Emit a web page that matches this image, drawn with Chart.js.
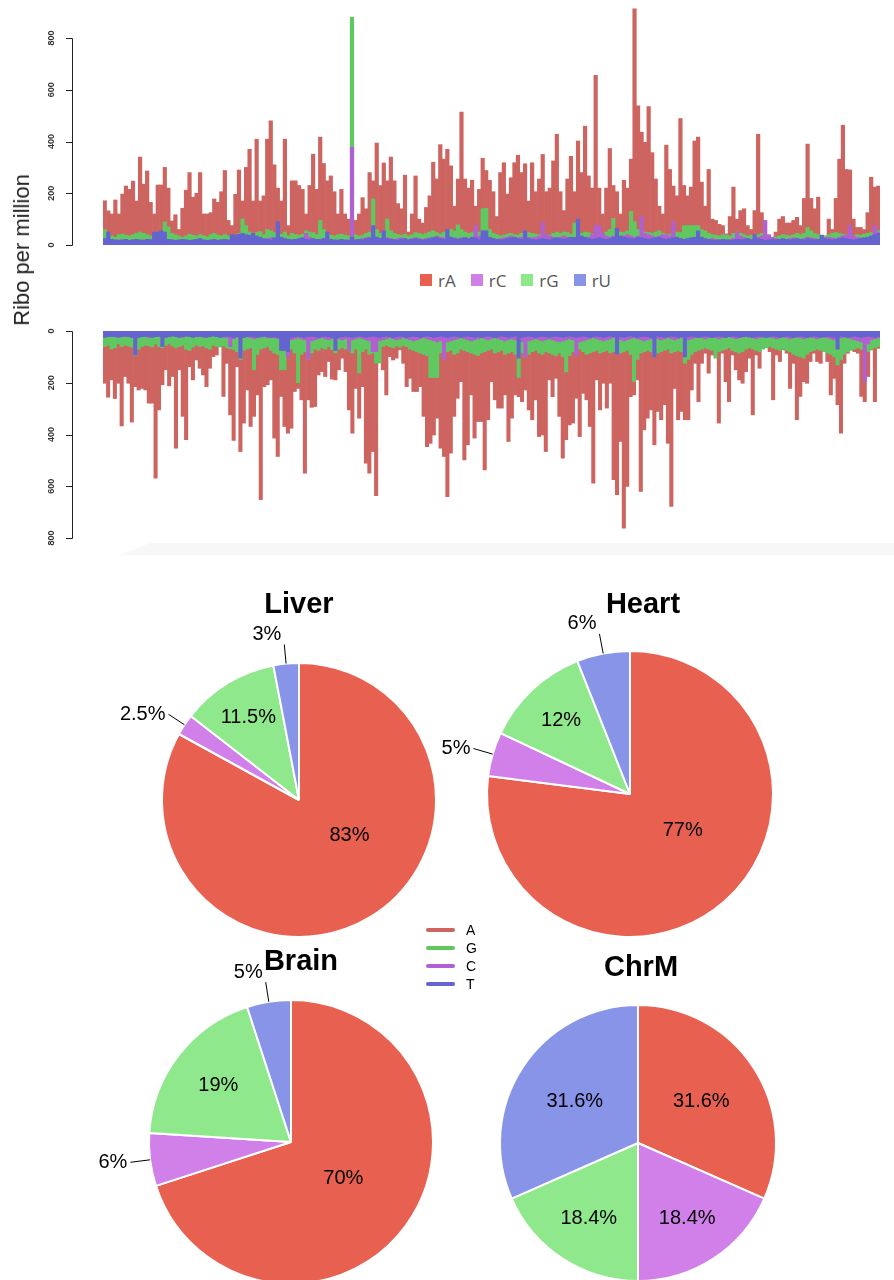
<!DOCTYPE html>
<html>
<head>
<meta charset="utf-8">
<script src="https://cdn.jsdelivr.net/npm/chart.js@4.4.0/dist/chart.umd.min.js"></script>
<style>
  body { margin: 0; width: 894px; height: 1280px; background: #fff; position: relative; overflow: hidden;
         font-family: 'Liberation Sans', Arial, sans-serif; }
  .abs { position: absolute; }
  .title { position: absolute; transform: translate(-50%, -50%); font-weight: bold; font-size: 29px; line-height: 29px; color: #000; white-space: nowrap; }
  #topLegend { position: absolute; left: 420px; top: 270px; display: flex; align-items: center; height: 20px;
               font-family: 'Open Sans', sans-serif; font-size: 17px; color: #555; }
  #topLegend span.sq { display: inline-block; width: 12px; height: 12px; margin-right: 6px; }
  #topLegend span.txt { margin-right: 15px; }
  #pieLegend { position: absolute; left: 426px; top: 921px; font-size: 14px; color: #000; }
  #pieLegend div { display: flex; align-items: center; height: 18px; }
  #pieLegend i { display: inline-block; width: 29px; height: 4px; border-radius: 2px; margin-right: 11px; }
</style>
</head>
<body>
<canvas id="topChart" class="abs" style="left:0;top:0" width="894" height="252"></canvas>
<canvas id="bottomChart" class="abs" style="left:0;top:320px" width="894" height="230"></canvas>
<div class="abs" style="left:120px;top:543px;width:774px;height:12px;background:#f7f7f7;clip-path:polygon(30px 0,100% 0,100% 100%,0 100%)"></div>
<div class="abs" style="left:22px;top:250px;transform:translate(-50%,-50%) rotate(-90deg);font-size:22px;color:#222;white-space:nowrap">Ribo per million</div>
<div id="topLegend"></div>

<canvas id="pieLiver" class="abs" width="420" height="420" style="left:89px;top:590px"></canvas>
<canvas id="pieHeart" class="abs" width="420" height="420" style="left:420px;top:584px"></canvas>
<canvas id="pieBrain" class="abs" width="420" height="420" style="left:81px;top:932px"></canvas>
<canvas id="pieChrM" class="abs" width="420" height="420" style="left:428px;top:933px"></canvas>
<div class="title" style="left:299px;top:603px">Liver</div>
<div class="title" style="left:643px;top:603px">Heart</div>
<div class="title" style="left:301px;top:960px">Brain</div>
<div class="title" style="left:641px;top:966px">ChrM</div>
<div id="pieLegend"></div>

<script>
// ---- upper track: ribo per million, per base ----
const topA = [
  171,132,120,174,120,197,228,215,247,170,
  340,235,286,165,120,232,232,300,220,93,
  117,60,142,212,280,185,200,280,120,120,
  125,178,165,206,288,95,75,196,290,170,
  300,370,170,409,170,190,409,480,310,220,
  170,409,75,248,248,230,215,120,230,351,
  215,417,315,248,267,206,120,215,120,100,
  100,95,120,183,140,280,248,394,230,317,
  248,340,248,160,140,270,50,120,267,100,
  85,145,190,320,255,388,332,370,306,150,
  255,514,255,220,250,150,215,335,288,250,
  206,110,280,318,197,260,318,347,280,314,
  170,318,206,255,350,206,220,325,428,206,
  133,255,343,206,402,280,459,267,220,656,
  220,120,220,373,230,206,120,250,220,332,
  913,538,436,397,535,357,255,150,120,386,
  292,228,190,489,230,190,224,402,417,243,
  150,292,100,95,80,75,43,110,224,100,
  133,140,75,60,133,428,125,35,35,30,
  50,100,110,85,85,95,107,75,180,390,
  180,140,185,35,35,100,60,180,332,463,
  292,290,100,68,68,60,125,262,224,228
]
const topG = [
  60,45,35,30,40,42,38,35,40,45,
  50,45,40,35,38,42,48,89,70,45,
  40,35,30,35,42,38,35,40,36,32,
  40,45,38,35,42,35,30,38,45,101,
  75,50,45,48,52,40,60,55,48,45,
  42,50,35,45,40,38,42,55,50,48,
  40,95,60,45,38,35,40,42,38,36,
  880,40,35,38,45,50,178,60,45,50,
  101,55,45,40,38,42,35,40,48,45,
  40,45,50,55,48,42,50,45,60,55,
  78,60,50,45,48,55,50,140,142,60,
  45,40,35,38,42,45,40,38,45,50,
  48,45,42,40,45,40,38,45,50,45,
  50,48,42,85,60,45,50,48,42,45,
  40,45,50,60,103,55,50,48,55,130,
  90,60,55,50,48,45,50,55,45,42,
  40,45,50,48,75,75,75,75,75,60,
  55,45,40,38,35,40,38,35,45,50,
  45,40,35,38,35,40,45,30,28,30,
  32,35,40,38,35,40,45,40,45,68,
  55,45,40,38,35,40,45,48,45,42,
  40,38,35,40,38,42,45,48,50,55
]
const topC = [
  15,18,15,18,20,18,15,18,20,18,
  18,20,18,22,28,40,30,22,18,20,
  18,15,18,20,18,15,18,20,18,15,
  18,20,18,20,22,18,20,25,28,30,
  25,28,30,25,22,20,25,28,22,20,
  20,22,18,20,22,25,28,45,30,22,
  20,22,25,28,20,18,20,22,18,20,
  378,20,22,25,28,30,35,30,25,30,
  28,25,22,25,28,25,22,25,28,25,
  22,25,28,30,35,30,28,35,30,28,
  25,28,30,25,22,75,35,30,30,28,
  25,22,25,28,30,35,30,28,30,35,
  30,28,30,35,87,40,35,30,28,30,
  35,30,28,30,35,30,28,30,40,75,
  75,45,35,30,35,30,28,35,40,35,
  30,35,110,45,40,35,30,35,40,40,
  35,90,28,25,22,22,20,22,25,22,
  20,22,25,22,20,18,20,22,25,50,
  35,28,25,22,25,30,35,95,40,30,
  25,22,20,22,25,28,25,22,25,30,
  28,25,22,25,28,30,28,25,30,35,
  40,75,35,30,28,25,30,35,75,50
]
const topU = [
  25,50,22,20,18,20,22,18,20,22,
  20,18,22,20,50,50,55,50,22,20,
  18,20,22,20,18,20,22,25,20,18,
  20,22,18,20,22,20,40,38,42,45,
  40,38,45,35,30,25,22,20,28,90,
  30,25,22,20,22,25,28,22,20,25,
  22,20,25,50,22,20,18,22,20,18,
  30,20,22,20,25,28,75,30,25,55,
  25,22,20,18,22,25,20,22,25,22,
  20,22,25,28,30,25,22,60,30,25,
  22,25,28,25,30,28,22,55,55,30,
  25,22,20,22,25,28,30,25,22,55,
  25,22,20,22,25,22,20,25,28,25,
  22,25,30,28,100,35,30,25,22,25,
  28,25,22,25,30,65,35,30,28,25,
  25,30,28,25,22,25,28,30,25,22,
  25,28,30,25,22,25,28,30,55,30,
  25,22,20,18,20,22,20,18,20,22,
  20,22,25,20,40,25,22,18,20,22,
  20,22,25,22,20,22,25,22,20,25,
  22,20,22,38,25,22,20,22,25,28,
  25,22,20,22,25,28,30,35,40,45
]

// ---- lower track (mirrored) ----
const botA = [
  202,256,189,261,202,367,176,202,352,215,
  228,222,228,279,279,569,305,208,150,212,
  176,453,150,330,420,138,189,112,144,170,
  215,144,99,93,60,253,125,324,423,138,
  466,356,228,369,330,247,652,215,208,189,
  414,485,253,369,395,376,234,222,266,549,
  266,295,292,170,157,176,118,186,189,150,
  105,157,305,395,222,337,215,511,549,466,
  636,86,150,247,99,112,105,73,125,215,
  183,234,234,215,330,447,434,402,337,453,
  485,640,472,330,260,196,498,440,247,414,
  350,350,537,343,196,266,298,298,247,427,
  337,247,254,273,228,305,343,266,408,402,
  466,189,254,183,330,491,420,363,356,260,
  408,241,266,369,588,189,305,202,298,202,
  575,633,427,762,601,254,247,189,620,382,
  337,305,440,311,343,285,434,678,222,343,
  311,343,343,228,125,273,125,86,163,93,
  35,356,86,196,273,93,150,189,202,157,
  105,324,93,144,35,60,80,266,93,118,
  73,86,222,125,343,253,196,202,118,86,
  118,125,73,118,247,183,285,395,125,86,
  41,80,86,253,273,176,73,273,67
]
const botG = [
  60,55,70,65,50,60,55,58,62,95,
  70,60,55,58,62,50,60,65,55,50,
  58,65,60,55,70,75,62,55,60,58,
  65,70,55,60,62,58,65,68,72,80,
  110,75,70,65,150,90,70,65,60,75,
  85,90,150,150,75,70,85,200,90,80,
  110,85,70,75,65,70,60,72,85,70,
  65,70,75,85,70,162,80,70,90,85,
  124,124,60,55,60,65,58,62,55,60,
  70,75,80,85,90,95,180,180,180,85,
  110,80,75,90,85,70,75,80,85,90,
  95,85,80,75,70,85,80,75,90,85,
  80,90,180,85,100,90,80,75,85,90,
  80,85,90,95,85,100,158,95,80,75,
  70,80,90,85,80,75,85,80,75,85,
  80,90,85,80,75,90,195,110,85,80,
  75,80,90,85,80,75,70,85,80,75,
  80,125,110,90,80,75,70,65,70,75,
  105,80,75,70,65,75,80,85,80,70,
  65,70,75,80,70,65,60,65,70,75,
  70,75,80,90,95,100,105,90,80,75,
  70,75,80,85,90,100,132,110,90,80,
  75,70,65,70,75,80,70,65,60
]
const botC = [
  18,20,22,18,16,20,22,18,20,22,
  20,18,22,24,20,18,22,20,18,16,
  18,20,22,24,20,18,22,20,22,24,
  22,20,18,20,22,24,26,60,30,24,
  26,24,22,26,30,26,24,22,26,24,
  26,30,34,30,100,34,30,26,30,34,
  110,38,34,30,26,30,34,30,26,30,
  34,30,75,34,30,26,30,34,38,80,
  80,38,34,30,26,30,34,30,26,30,
  34,38,34,30,26,30,34,38,42,38,
  110,42,38,34,30,26,30,34,38,34,
  30,26,30,34,30,26,30,34,38,34,
  30,34,38,42,100,38,34,30,34,38,
  34,30,34,38,42,38,34,30,34,95,
  42,38,34,30,26,30,34,38,34,30,
  26,30,34,38,34,30,26,30,34,38,
  34,30,26,30,34,30,26,30,34,30,
  26,30,34,30,26,24,26,30,26,24,
  26,30,26,24,22,26,30,26,24,22,
  24,26,30,26,24,22,24,26,30,26,
  24,26,30,26,24,26,30,26,24,26,
  30,26,24,26,30,34,30,26,24,26,
  30,34,38,42,195,50,34,30,26
]
const botU = [
  25,22,20,22,25,22,20,22,25,93,
  25,22,20,22,25,22,20,60,25,22,
  20,22,25,22,20,22,25,22,20,22,
  25,22,20,22,25,22,20,22,25,22,
  105,25,22,20,22,25,22,20,22,25,
  22,25,75,75,80,25,22,20,22,25,
  22,20,22,25,22,20,22,25,75,25,
  22,20,22,25,22,20,22,25,22,20,
  22,25,22,20,22,25,22,20,22,25,
  22,20,22,25,22,20,22,25,22,20,
  22,25,22,20,22,25,22,20,22,25,
  22,25,22,20,22,25,22,20,22,25,
  22,20,105,25,22,20,22,25,22,20,
  22,25,22,20,22,25,22,20,22,25,
  22,20,22,25,22,20,22,25,22,20,
  22,90,22,25,22,20,22,25,22,20,
  22,25,100,20,22,25,22,20,22,25,
  22,100,22,20,22,25,22,20,22,25,
  22,20,22,25,22,20,22,25,22,20,
  22,25,22,20,22,25,22,20,22,25,
  22,20,22,25,22,20,22,25,22,20,
  22,25,22,20,22,25,70,20,22,25,
  22,20,22,25,22,20,22,25,22
]
const yTicks = [0, 200, 400, 600, 800]
const trackNames = ['rA', 'rC', 'rG', 'rU']

// ---- pies: percentages in order A, C, G, T ----
const pieBases = ['A', 'C', 'G', 'T']
const liver = [83, 2.5, 11.5, 3]
const heart = [77, 5, 12, 6]
const brain = [70, 6, 19, 5]
const chrM = [31.6, 18.4, 18.4, 31.6]
const legendBases = ['A', 'G', 'C', 'T']

const barColors = { A: '#cd6460', C: '#b060d0', G: '#60c860', U: '#6464d0', T: '#6464d0' }
const pieColors = ['#e8604f', '#d080e8', '#90e88c', '#8894e8']

// y axis like R base graphics: detached line, rotated labels
const riboAxis = {
    id: 'riboAxis',
    afterDraw(chart) {
        const y = chart.scales.y
        const ctx = chart.ctx
        const x0 = chart.chartArea.left - 31
        ctx.save()
        ctx.strokeStyle = '#222'
        ctx.lineWidth = 1
        ctx.beginPath()
        ctx.moveTo(x0 + 0.5, Math.round(y.getPixelForValue(yTicks[0])) + 0.5)
        ctx.lineTo(x0 + 0.5, Math.round(y.getPixelForValue(yTicks[yTicks.length - 1])) + 0.5)
        yTicks.forEach(v => {
            const py = Math.round(y.getPixelForValue(v)) + 0.5
            ctx.moveTo(x0 + 0.5, py)
            ctx.lineTo(x0 - 6, py)
        })
        ctx.stroke()
        ctx.fillStyle = '#333'
        ctx.font = 'bold 9px "Liberation Sans", Arial, sans-serif'
        ctx.textAlign = 'center'
        ctx.textBaseline = 'middle'
        yTicks.forEach(v => {
            ctx.save()
            ctx.translate(x0 - 20, y.getPixelForValue(v))
            ctx.rotate(-Math.PI / 2)
            ctx.fillText(String(v), 0, 0)
            ctx.restore()
        })
        ctx.restore()
    }
}

function trackChart(id, a, c, g, u, maxVal, reverse, padding) {
    const bar = (data, color, order) => ({
        data: data, backgroundColor: color, borderWidth: 0,
        barPercentage: 1, categoryPercentage: 1, grouped: false, order: order
    })
    return new Chart(document.getElementById(id), {
        type: 'bar',
        data: {
            labels: a.map((_, i) => i + 1),
            datasets: [
                bar(a, barColors.A, 4),
                bar(g, barColors.G, 3),
                bar(c, barColors.C, 2),
                bar(u, barColors.U, 1)
            ]
        },
        options: {
            responsive: false,
            animation: false,
            layout: { padding: padding },
            plugins: { legend: { display: false }, tooltip: { enabled: false } },
            scales: {
                x: { display: false, stacked: true },
                y: { display: false, stacked: false, min: 0, max: maxVal, reverse: reverse }
            }
        },
        plugins: [riboAxis]
    })
}

trackChart('topChart', topA, topC, topG, topU, 920, false, { left: 103, right: 14, top: 7, bottom: 7 })
trackChart('bottomChart', botA, botC, botG, botU, 800, true, { left: 103, right: 14, top: 11, bottom: 12 })

// percentage labels, plotly-like: inside for big slices, outside with a leader for small ones
const pieLabels = {
    id: 'pieLabels',
    afterDatasetsDraw(chart) {
        const ctx = chart.ctx
        const values = chart.data.datasets[0].data
        ctx.save()
        ctx.font = '20px "Liberation Sans", Arial, sans-serif'
        ctx.fillStyle = '#000'
        ctx.strokeStyle = '#000'
        ctx.lineWidth = 1
        chart.getDatasetMeta(0).data.forEach((arc, i) => {
            const v = values[i]
            const text = v + '%'
            const r = arc.outerRadius
            let mid = (arc.startAngle + arc.endAngle) / 2
            if (v < 10) {
                const dx = Math.cos(mid), dy = Math.sin(mid)
                const ex = arc.x + dx * r * 1.14, ey = arc.y + dy * r * 1.14
                ctx.beginPath()
                ctx.moveTo(arc.x + dx * r, arc.y + dy * r)
                ctx.lineTo(ex, ey)
                ctx.stroke()
                ctx.textAlign = dx < 0 ? 'right' : 'left'
                ctx.textBaseline = Math.abs(dy) > 0.7 ? (dy < 0 ? 'bottom' : 'top') : 'middle'
                ctx.fillText(text, ex + (dx < 0 ? -3 : 3), ey)
            } else {
                let dist = r * (0.8 - v * 0.008)
                if (v > 50) {
                    mid = -Math.PI / 2 + 125 * Math.PI / 180
                    dist = r * 0.45
                }
                ctx.textAlign = 'center'
                ctx.textBaseline = 'middle'
                ctx.fillText(text, arc.x + Math.cos(mid) * dist, arc.y + Math.sin(mid) * dist)
            }
        })
        ctx.restore()
    }
}

function pieChart(id, values, radius) {
    return new Chart(document.getElementById(id), {
        type: 'pie',
        data: {
            labels: pieBases,
            datasets: [{
                data: values,
                backgroundColor: pieColors,
                borderColor: '#ffffff',
                borderWidth: 2,
                hoverOffset: 0,
                radius: radius
            }]
        },
        options: {
            responsive: false,
            animation: false,
            plugins: { legend: { display: false }, tooltip: { enabled: false } }
        },
        plugins: [pieLabels]
    })
}

pieChart('pieLiver', liver, 137)
pieChart('pieHeart', heart, 143)
pieChart('pieBrain', brain, 142)
pieChart('pieChrM', chrM, 138)

// legends
const topLegend = document.getElementById('topLegend')
trackNames.forEach((name, i) => {
    topLegend.insertAdjacentHTML('beforeend',
        `<span class="sq" style="background:${pieColors[i]}"></span><span class="txt">${name}</span>`)
})
const pieLegend = document.getElementById('pieLegend')
legendBases.forEach(b => {
    pieLegend.insertAdjacentHTML('beforeend', `<div><i style="background:${barColors[b]}"></i>${b}</div>`)
})

// length sanity check (visible only if something is off)
const lens = [topA, topG, topC, topU].map(a => a.length).join(',') + ' / ' + [botA, botG, botC, botU].map(a => a.length).join(',')
if (new Set([topA, topG, topC, topU].map(a => a.length)).size > 1 || new Set([botA, botG, botC, botU].map(a => a.length)).size > 1) {
    document.body.insertAdjacentHTML('beforeend', `<div class="abs" style="left:600px;top:300px;color:red">${lens}</div>`)
}
</script>
</body>
</html>
